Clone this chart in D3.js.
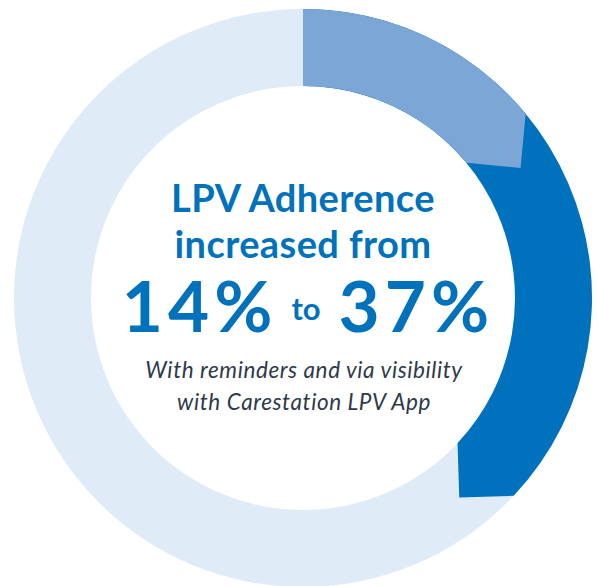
<!DOCTYPE html>
<html>
<head>
<meta charset="utf-8">
<script src="https://cdn.jsdelivr.net/npm/d3@7"></script>
<style>
  body { margin: 0; background: #fff; }
  .headline { font-family: Lato, "Noto Sans", sans-serif; font-weight: 700; fill: #0072bc; }
  .note { font-family: Lato, "Noto Sans", sans-serif; font-style: italic; fill: #2e3a4b; }
</style>
</head>
<body>
<div id="chart"></div>
<script>
// LPV adherence donut: before (14%) and after (37%) on one ring
const segments = ["Before", "After"];
const values = [14, 37];
const segColors = ["#7ba6d6", "#0071bc"];
const trackColor = "#dfecf7";

const titleLines = ["LPV Adherence", "increased from"];
const bigLine = ["14%", "to", "37%"];
const noteLines = ["With reminders and via visibility", "with Carestation LPV App"];

let width = 598,
  height = 586,
  cx = 303,
  cy = 298,
  outerR = 289,
  innerR = 212;

let svg = d3.select("#chart")
  .append("svg")
  .attr("width", width)
  .attr("height", height);

let g = svg.append("g")
  .attr("transform", `translate(${cx},${cy})`);

let angle = d3.scaleLinear().domain([0, 100]).range([0, 2 * Math.PI]);

let arc = d3.arc().innerRadius(innerR).outerRadius(outerR);

// full background track
g.append("path")
  .attr("d", arc({startAngle: 0, endAngle: 2 * Math.PI}))
  .attr("fill", trackColor);

// arc segment with a pointed (arrow-like) end
function arrowArc(v) {
  let a = angle(v);
  let rm = (innerR + outerR) / 2, h = (outerR - innerR) / 2;
  let po = [outerR * Math.sin(a), -outerR * Math.cos(a)];
  let pi = [innerR * Math.sin(a), -innerR * Math.cos(a)];
  let tip = [rm * Math.sin(a) + h * Math.cos(a), -rm * Math.cos(a) + h * Math.sin(a)];
  return arc({startAngle: 0, endAngle: a}) +
    `M${po}L${tip}L${pi}Z`;
}

// draw bigger value first so the smaller one sits on top
let order = d3.range(values.length).sort((a, b) => values[b] - values[a]);
g.selectAll(".seg")
  .data(order)
  .enter()
  .append("path")
  .attr("class", "seg")
  .attr("d", i => arrowArc(values[i]))
  .attr("fill", i => segColors[i]);

// centre text
g.selectAll(".title")
  .data(titleLines)
  .enter()
  .append("text")
  .attr("class", "headline title")
  .attr("text-anchor", "middle")
  .attr("x", 0)
  .attr("y", (d, i) => -86 + i * 46)
  .attr("font-size", 38)
  .attr("letter-spacing", 0.4)
  .text(d => d);

let big = g.append("text")
  .attr("class", "headline")
  .attr("text-anchor", "middle")
  .attr("x", 5)
  .attr("y", 34)
  .attr("font-size", 71)
  .attr("font-weight", 900)
  .attr("letter-spacing", 5);
big.append("tspan").text(bigLine[0]);
big.append("tspan").attr("font-size", 31).attr("letter-spacing", 0).attr("dx", 14).attr("dy", -12).text(bigLine[1]);
big.append("tspan").attr("dx", 18).attr("dy", 12).text(bigLine[2]);

g.selectAll(".note")
  .data(noteLines)
  .enter()
  .append("text")
  .attr("class", "note")
  .attr("text-anchor", "middle")
  .attr("x", 1)
  .attr("y", (d, i) => 80 + i * 32)
  .attr("font-size", 22.5)
  .attr("letter-spacing", 0.6)
  .text(d => d);
</script>
</body>
</html>
